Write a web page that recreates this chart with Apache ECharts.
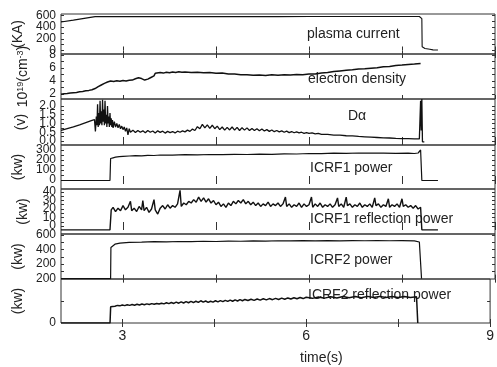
<!DOCTYPE html>
<html>
<head>
<meta charset="utf-8">
<script src="https://cdn.jsdelivr.net/npm/echarts@6/dist/echarts.min.js"></script>
<style>html,body{margin:0;padding:0;background:#fff}#c{width:497px;height:367px}</style>
</head>
<body>
<div id="c"></div>
<script>
// ---------- data (time in s, value) ----------
const xTicks = [3, 4.5, 6, 7.5, 9];
const xLabels = [3, 6, 9];

const plasmaCurrent = [[2.0,488],[2.2,520],[2.4,555],[2.55,580],[3.0,581],[3.5,580],[4.0,582],[4.5,580],[5.0,581],[5.5,580],[6.0,582],[6.5,581],[7.0,582],[7.5,583],[7.78,582],[7.8,570],[7.82,545],[7.825,65],[7.87,35],[7.95,20],[8.0,10],[8.08,8]];

const electronDensity = [[2.0,1.98],[2.05,2.06],[2.1,2.1],[2.15,2.17],[2.2,2.22],[2.25,2.26],[2.3,2.35],[2.35,2.4],[2.4,2.5],[2.45,2.57],[2.5,2.68],[2.55,2.85],[2.6,3.15],[2.65,3.4],[2.7,3.65],[2.75,3.85],[2.8,4.0],[2.85,3.95],[2.9,4.05],[2.95,3.98],[3.0,4.08],[3.05,4.02],[3.1,4.12],[3.15,4.15],[3.2,4.35],[3.25,4.5],[3.3,4.38],[3.35,4.15],[3.4,4.3],[3.45,4.55],[3.5,4.8],[3.52,5.2],[3.55,5.25],[3.6,5.3],[3.65,5.22],[3.7,5.35],[3.75,5.28],[3.8,5.4],[3.85,5.32],[3.9,5.42],[3.95,5.35],[4.0,5.4],[4.1,5.32],[4.2,5.36],[4.3,5.26],[4.4,5.3],[4.5,5.2],[4.6,5.22],[4.7,5.1],[4.8,5.08],[4.9,4.98],[5.0,4.95],[5.1,4.88],[5.2,4.92],[5.3,4.85],[5.4,4.95],[5.5,4.9],[5.6,4.98],[5.7,4.92],[5.8,5.02],[5.9,4.98],[6.0,5.08],[6.1,5.1],[6.2,5.25],[6.3,5.3],[6.4,5.45],[6.5,5.55],[6.6,5.65],[6.7,5.72],[6.8,5.85],[6.9,5.88],[7.0,5.98],[7.1,6.05],[7.2,6.2],[7.3,6.25],[7.4,6.4],[7.5,6.45],[7.6,6.55],[7.7,6.62],[7.8,6.7]];

const dAlpha = [[2.0,0.6],[2.1,0.7],[2.2,0.8],[2.3,0.92],[2.4,1.05],[2.5,1.18],[2.54,1.22],[2.555,0.55],[2.57,1.4],[2.58,0.9],[2.59,2.1],[2.6,0.8],[2.61,1.6],[2.62,0.9],[2.63,2.3],[2.64,1.0],[2.65,1.7],[2.66,0.9],[2.67,2.35],[2.68,1.1],[2.69,1.8],[2.7,0.9],[2.71,2.3],[2.72,1.0],[2.73,1.5],[2.74,0.8],[2.75,2.0],[2.76,1.0],[2.77,1.4],[2.78,0.8],[2.79,1.6],[2.8,0.9],[2.81,1.3],[2.82,0.8],[2.83,1.2],[2.84,0.75],[2.86,1.1],[2.88,0.8],[2.9,1.0],[2.92,0.75],[2.94,0.95],[2.96,0.7],[2.98,0.85],[3.0,0.65],[3.02,0.8],[3.04,0.55],[3.06,0.75],[3.08,0.35],[3.1,0.7],[3.12,0.5],[3.16,0.62],[3.2,0.48],[3.24,0.6],[3.28,0.5],[3.32,0.58],[3.36,0.47],[3.4,0.6],[3.44,0.5],[3.48,0.57],[3.52,0.46],[3.56,0.58],[3.6,0.49],[3.64,0.56],[3.68,0.45],[3.72,0.55],[3.76,0.48],[3.8,0.54],[3.84,0.46],[3.88,0.56],[3.92,0.5],[3.96,0.58],[4.0,0.52],[4.04,0.62],[4.08,0.55],[4.12,0.68],[4.16,0.6],[4.2,0.82],[4.24,0.7],[4.28,0.95],[4.32,0.75],[4.36,0.92],[4.4,0.72],[4.44,0.9],[4.48,0.7],[4.52,0.85],[4.56,0.65],[4.6,0.8],[4.64,0.62],[4.68,0.78],[4.72,0.63],[4.76,0.8],[4.8,0.62],[4.84,0.78],[4.88,0.6],[4.92,0.76],[4.96,0.62],[5.0,0.75],[5.04,0.6],[5.08,0.72],[5.12,0.6],[5.16,0.7],[5.2,0.58],[5.24,0.68],[5.28,0.57],[5.32,0.65],[5.36,0.55],[5.4,0.63],[5.44,0.53],[5.48,0.6],[5.52,0.52],[5.56,0.58],[5.6,0.5],[5.64,0.56],[5.68,0.48],[5.72,0.54],[5.76,0.47],[5.8,0.52],[5.84,0.46],[5.88,0.5],[5.92,0.44],[5.96,0.48],[6.0,0.43],[6.05,0.46],[6.1,0.41],[6.15,0.43],[6.2,0.38],[6.3,0.38],[6.4,0.34],[6.5,0.33],[6.6,0.3],[6.7,0.29],[6.8,0.26],[6.9,0.24],[7.0,0.22],[7.1,0.2],[7.2,0.18],[7.3,0.17],[7.4,0.15],[7.5,0.14],[7.6,0.13],[7.7,0.12],[7.78,0.12],[7.8,2.3],[7.81,0.6],[7.82,2.4],[7.83,-0.05],[7.86,-0.05]];

const icrf1Power = [[2.0,-5],[2.79,-5],[2.8,215],[2.84,222],[2.88,228],[2.94,233],[3.0,236],[3.1,240],[3.2,244],[3.3,242],[3.4,247],[3.5,245],[3.6,250],[3.8,249],[4.0,253],[4.2,251],[4.4,255],[4.6,253],[4.8,257],[5.0,255],[5.2,259],[5.4,257],[5.6,262],[5.8,260],[6.0,265],[6.2,263],[6.4,268],[6.6,266],[6.8,270],[7.0,268],[7.2,269],[7.4,266],[7.6,268],[7.7,265],[7.76,270],[7.8,300],[7.82,-5],[8.08,-5]];

const icrf1Reflection = [[2.0,-4.5],[2.79,-4.5],[2.81,19],[2.84,22],[2.88,17],[2.92,21],[2.96,18],[3.0,24],[3.04,19],[3.08,22],[3.12,29],[3.14,18],[3.18,21],[3.22,17],[3.26,23],[3.3,19],[3.32,30],[3.34,18],[3.38,22],[3.42,16],[3.46,20],[3.5,31],[3.52,19],[3.56,14],[3.6,21],[3.64,24],[3.68,20],[3.72,25],[3.76,21],[3.8,24],[3.84,22],[3.88,26],[3.92,42],[3.94,23],[3.98,27],[4.02,25],[4.06,29],[4.1,27],[4.14,31],[4.18,28],[4.22,34],[4.26,29],[4.3,33],[4.34,28],[4.38,32],[4.42,27],[4.46,30],[4.5,25],[4.54,28],[4.58,23],[4.62,26],[4.66,22],[4.7,27],[4.74,24],[4.78,29],[4.82,26],[4.86,30],[4.9,27],[4.94,31],[4.98,26],[5.02,29],[5.06,25],[5.1,28],[5.14,24],[5.18,27],[5.22,23],[5.26,26],[5.3,24],[5.34,28],[5.38,23],[5.42,26],[5.46,24],[5.5,27],[5.54,23],[5.58,26],[5.62,34],[5.64,23],[5.68,26],[5.72,22],[5.76,25],[5.8,23],[5.84,27],[5.88,22],[5.92,26],[5.96,23],[6.0,25],[6.04,34],[6.06,22],[6.1,26],[6.14,23],[6.18,27],[6.22,22],[6.26,25],[6.3,23],[6.34,26],[6.38,22],[6.42,25],[6.46,33],[6.48,23],[6.52,26],[6.56,22],[6.6,34],[6.62,24],[6.66,26],[6.7,22],[6.74,25],[6.78,23],[6.82,27],[6.86,22],[6.9,25],[6.94,23],[6.98,26],[7.02,22],[7.06,33],[7.08,24],[7.12,26],[7.16,22],[7.2,25],[7.24,23],[7.28,32],[7.3,22],[7.34,25],[7.38,23],[7.42,26],[7.46,22],[7.5,32],[7.52,23],[7.56,25],[7.6,22],[7.64,24],[7.68,21],[7.72,24],[7.76,20],[7.8,22],[7.82,-4.5],[8.08,-4.5]];

const icrf2Power = [[2.0,0],[2.8,0],[2.805,430],[2.83,455],[2.87,475],[2.95,490],[3.1,500],[3.3,504],[3.5,509],[3.7,506],[3.9,512],[4.1,509],[4.3,515],[4.5,512],[4.7,518],[4.9,515],[5.1,520],[5.3,517],[5.5,522],[5.7,519],[5.9,523],[6.1,520],[6.3,524],[6.5,521],[6.7,525],[6.9,522],[7.1,525],[7.3,522],[7.5,524],[7.7,520],[7.78,505],[7.81,480],[7.815,0]];

const icrf2Reflection = [[2.0,0],[2.8,0],[2.81,74],[2.84,78],[2.88,76],[2.92,80],[2.96,78],[3.0,82],[3.04,79],[3.08,83],[3.12,80],[3.16,84],[3.2,81],[3.24,85],[3.28,82],[3.32,86],[3.36,83],[3.4,87],[3.44,84],[3.48,88],[3.52,85],[3.56,89],[3.6,86],[3.64,90],[3.68,87],[3.72,92],[3.76,88],[3.8,93],[3.84,89],[3.88,95],[3.92,90],[3.96,96],[4.0,91],[4.04,97],[4.08,92],[4.12,98],[4.16,93],[4.2,99],[4.24,94],[4.28,101],[4.32,95],[4.36,100],[4.4,94],[4.44,99],[4.48,95],[4.52,101],[4.56,96],[4.6,102],[4.64,97],[4.68,103],[4.72,98],[4.76,104],[4.8,99],[4.84,105],[4.88,100],[4.92,106],[4.96,101],[5.0,107],[5.05,102],[5.1,108],[5.15,103],[5.2,109],[5.25,104],[5.3,110],[5.35,105],[5.4,111],[5.45,106],[5.5,112],[5.55,107],[5.6,113],[5.65,108],[5.7,114],[5.75,109],[5.8,115],[5.85,110],[5.9,116],[5.95,111],[6.0,117],[6.1,112],[6.2,118],[6.3,113],[6.4,119],[6.5,114],[6.6,120],[6.7,115],[6.8,120],[6.9,115],[7.0,121],[7.1,116],[7.2,121],[7.3,116],[7.4,120],[7.5,116],[7.6,120],[7.7,116],[7.8,119],[7.82,0]];

// y-axis tick labels (split in two staggered sets so every label is drawn) and tick marks per panel
const yLabelsA = [[0,400],[2,4,6,8],[0,1,2],[0,200],[0,20,40],[200,400,600],[0,200]];
const yLabelsB = [[200,600],[],[0.5,1.5],[100,300],[10,30],[],[]];
const yTicks = [[0,100,200,300,400,500,600],[2,3,4,5,6,7,8],[0,0.25,0.5,0.75,1,1.25,1.5,1.75,2],[0,50,100,150,200,250,300],[0,5,10,15,20,25,30,35,40],[100,200,300,400,500,600],[100]];
const yNames = ['(KA)','10{s|19}(cm{s|-3})','(v)','(kw)','(kw)','(kw)','(kw)'];
const panelTitles = ['plasma current','electron density','D\u03b1','ICRF1 power','ICRF1 reflection power','ICRF2 power','ICRF2 reflection power'];
const seriesData = [plasmaCurrent, electronDensity, dAlpha, icrf1Power, icrf1Reflection, icrf2Power, icrf2Reflection];

// ---------- layout ----------
const tops = [14, 54, 99, 145, 189, 234, 279];
const heights = [40, 45, 46, 44, 45, 45, 44];
const yRange = [[-60,625],[1.25,8.15],[-0.23,2.4],[-90,350],[-9.4,43.5],[-5,615],[0,200]];
const titlePos = [[307,35],[308,80],[348,117.5],[310,169],[310,220],[310,261],[308,296]];
const lineW = [1.1, 1.5, 1.3, 1.2, 1.4, 1.2, 1.5];
const narrow = "'Liberation Sans Narrow','Arial Narrow','Liberation Sans',Arial,sans-serif";
const sans = "'Liberation Sans',Arial,sans-serif";
const ink = '#222';

const grids = [], xAxes = [], yAxes = [], series = [], graphics = [];
for (let i = 0; i < 7; i++) {
  grids.push({left: 61, right: 2, top: tops[i], height: heights[i], show: true, borderColor: '#333', borderWidth: 1});
  const xb = {type: 'value', gridIndex: i, min: 2, max: 9, position: 'bottom',
    axisLine: {show: false}, splitLine: {show: false},
    axisTick: {inside: true, length: 4, customValues: xTicks, lineStyle: {color: '#333'}},
    axisLabel: {show: i === 6, customValues: xLabels, margin: 6, fontSize: 14, fontFamily: sans, color: ink,
      showMinLabel: true, showMaxLabel: true, hideOverlap: false, alignMaxLabel: 'center'}};
  const xt = {type: 'value', gridIndex: i, min: 2, max: 9, position: 'top',
    axisLine: {show: false}, splitLine: {show: false},
    axisTick: {inside: true, length: 4, customValues: xTicks, lineStyle: {color: '#333'}},
    axisLabel: {show: false}};
  xAxes.push(xb, xt);
  const fmt = i === 2 ? (v) => v.toFixed(1) : (v) => String(v);
  const labelStyle = {margin: 5, fontSize: 12, fontFamily: narrow, color: ink,
    showMinLabel: true, showMaxLabel: true, hideOverlap: false, interval: 0, formatter: fmt};
  const yl = {type: 'value', gridIndex: i, min: yRange[i][0], max: yRange[i][1], position: 'left',
    axisLine: {show: false}, splitLine: {show: false},
    axisTick: {inside: true, length: 3, customValues: yTicks[i], lineStyle: {color: '#333'}},
    axisLabel: Object.assign({customValues: yLabelsA[i]}, labelStyle),
    name: yNames[i], nameLocation: 'middle', nameRotate: 90, nameGap: 31,
    nameTextStyle: {fontSize: 14, fontFamily: sans, color: ink,
      rich: {s: {fontSize: 9, fontFamily: sans, color: ink, verticalAlign: 'top', lineHeight: 9}}}};
  const yl2 = {type: 'value', gridIndex: i, min: yRange[i][0], max: yRange[i][1], position: 'left',
    axisLine: {show: false}, splitLine: {show: false}, axisTick: {show: false},
    axisLabel: Object.assign({show: yLabelsB[i].length > 0, customValues: yLabelsB[i]}, labelStyle)};
  const yr = {type: 'value', gridIndex: i, min: yRange[i][0], max: yRange[i][1], position: 'right',
    axisLine: {show: false}, splitLine: {show: false},
    axisTick: {inside: true, length: 3, customValues: yTicks[i], lineStyle: {color: '#333'}},
    axisLabel: {show: false}};
  yAxes.push(yl, yl2, yr);
  series.push({type: 'line', xAxisIndex: 2 * i, yAxisIndex: 3 * i, data: seriesData[i],
    showSymbol: false, symbol: 'none', animation: false,
    lineStyle: {color: '#111', width: lineW[i]}});
  graphics.push({type: 'text', left: titlePos[i][0], top: titlePos[i][1] - 8,
    style: {text: panelTitles[i], fontSize: 14, fontFamily: sans, fill: ink}});
}
graphics.push({type: 'text', left: 300, top: 351, style: {text: 'time(s)', fontSize: 14, fontFamily: sans, fill: ink}});

const chart = echarts.init(document.getElementById('c'), null, {renderer: 'canvas'});
chart.setOption({animation: false, backgroundColor: '#fff', grid: grids, xAxis: xAxes, yAxis: yAxes, series: series, graphic: graphics});
</script>
</body>
</html>
